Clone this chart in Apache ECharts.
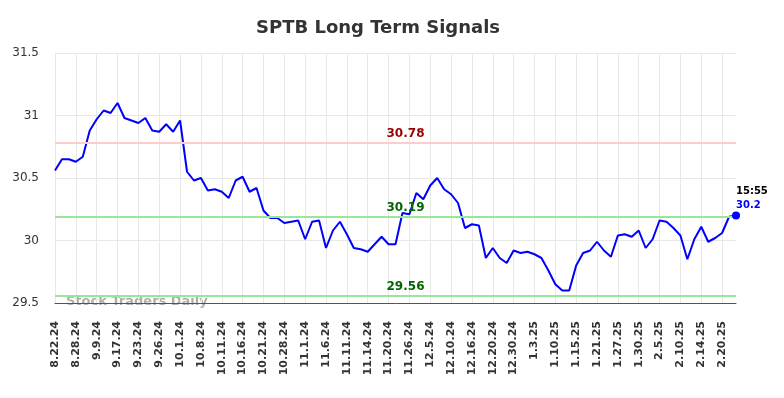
<!DOCTYPE html>
<html>
<head>
<meta charset="utf-8">
<script src="https://cdn.jsdelivr.net/npm/echarts@6/dist/echarts.min.js"></script>
<style>
  html, body { margin: 0; padding: 0; background: #fff; }
  #main { width: 784px; height: 398px; }
</style>
</head>
<body>
<div id="main"></div>
<script>
// tick labels, one every 3 points
const dateLabels = [
  '8.22.24', '8.28.24', '9.9.24', '9.17.24', '9.23.24', '9.26.24', '10.1.24', '10.8.24',
  '10.11.24', '10.16.24', '10.21.24', '10.28.24', '11.1.24', '11.6.24', '11.11.24', '11.14.24',
  '11.20.24', '11.26.24', '12.5.24', '12.10.24', '12.16.24', '12.20.24', '12.30.24', '1.3.25',
  '1.10.25', '1.15.25', '1.21.25', '1.27.25', '1.30.25', '2.5.25', '2.10.25', '2.14.25', '2.20.25'
]
const prices = [
  30.56, 30.65, 30.65, 30.63, 30.67, 30.88, 30.97, 31.04, 31.02, 31.10,
  30.98, 30.96, 30.94, 30.98, 30.88, 30.87, 30.93, 30.87, 30.96, 30.55,
  30.48, 30.50, 30.40, 30.41, 30.39, 30.34, 30.48, 30.51, 30.39, 30.42,
  30.24, 30.18, 30.18, 30.14, 30.15, 30.16, 30.01, 30.15, 30.16, 29.94,
  30.08, 30.15, 30.05, 29.94, 29.93, 29.91, 29.97, 30.03, 29.97, 29.97,
  30.22, 30.21, 30.38, 30.33, 30.44, 30.50, 30.41, 30.37, 30.30, 30.10,
  30.13, 30.12, 29.86, 29.94, 29.86, 29.82, 29.92, 29.90, 29.91, 29.89,
  29.86, 29.76, 29.65, 29.60, 29.60, 29.80, 29.90, 29.92, 29.99, 29.92,
  29.87, 30.04, 30.05, 30.03, 30.08, 29.94, 30.01, 30.16, 30.15, 30.10,
  30.04, 29.85, 30.01, 30.11, 29.99, 30.02, 30.06, 30.19, 30.20
]
const resistance = 30.78
const supports = [30.19, 29.56]
const lastTime = '15:55'
const lastPrice = 30.2

const categories = prices.map((v, i) => (i % 3 === 0 && dateLabels[i / 3]) ? dateLabels[i / 3] : '')

const font = 'DejaVu Sans'

function lineLabel(color) {
  return {
    show: true,
    position: 'middle',
    formatter: '{c}',
    color: color,
    fontFamily: font,
    fontWeight: 'bold',
    fontSize: 12,
    distance: 3,
    offset: [10, 0]
  }
}

const option = {
  animation: false,
  backgroundColor: '#fff',
  title: {
    text: 'SPTB Long Term Signals',
    left: 251,
    top: 14,
    textStyle: { fontFamily: font, fontSize: 18, fontWeight: 'bold', color: '#333' }
  },
  grid: { left: 55, right: 48, top: 53, bottom: 95 },
  graphic: [{
    type: 'text',
    left: 66,
    top: 295,
    style: {
      text: 'Stock Traders Daily',
      fill: 'rgba(120,120,120,0.6)',
      font: 'bold 13px "DejaVu Sans"'
    }
  }],
  xAxis: {
    type: 'category',
    data: categories,
    boundaryGap: false,
    axisLine: { lineStyle: { color: '#555', width: 1 } },
    axisTick: { show: false },
    axisLabel: {
      interval: 2,
      rotate: 90,
      margin: 18,
      color: '#333',
      fontFamily: font,
      fontWeight: 'bold',
      fontSize: 11
    },
    splitLine: { show: true, interval: 2, lineStyle: { color: '#e8e8e8' } }
  },
  yAxis: {
    type: 'value',
    min: 29.5,
    max: 31.5,
    interval: 0.5,
    axisLine: { show: false },
    axisTick: { show: false },
    axisLabel: { color: '#333', fontFamily: font, fontSize: 12, margin: 16 },
    splitLine: { lineStyle: { color: '#e8e8e8' } }
  },
  series: [{
    type: 'line',
    data: prices,
    showSymbol: false,
    lineStyle: { color: '#0000ff', width: 2 },
    itemStyle: { color: '#0000ff' },
    markLine: {
      silent: true,
      symbol: 'none',
      data: [
        { yAxis: resistance, lineStyle: { color: '#ffcccc', width: 2, type: 'solid' }, label: lineLabel('#990000') },
        { yAxis: supports[0], lineStyle: { color: '#99e699', width: 2, type: 'solid' }, label: lineLabel('#006600') },
        { yAxis: supports[1], lineStyle: { color: '#99e699', width: 2, type: 'solid' }, label: lineLabel('#006600') }
      ]
    },
    markPoint: {
      silent: true,
      symbol: 'circle',
      symbolSize: 8,
      itemStyle: { color: '#0000ff' },
      data: [{
        coord: [prices.length - 1, lastPrice],
        label: {
          show: true,
          position: [4, -27],
          formatter: '{t|' + lastTime + '}\n{v|' + lastPrice + '}',
          rich: {
            t: { color: '#000', fontFamily: font, fontWeight: 'bold', fontSize: 10, lineHeight: 14 },
            v: { color: '#0000ff', fontFamily: font, fontWeight: 'bold', fontSize: 10, lineHeight: 14 }
          }
        }
      }]
    }
  }]
}

const chart = echarts.init(document.getElementById('main'))
chart.setOption(option)
</script>
</body>
</html>
